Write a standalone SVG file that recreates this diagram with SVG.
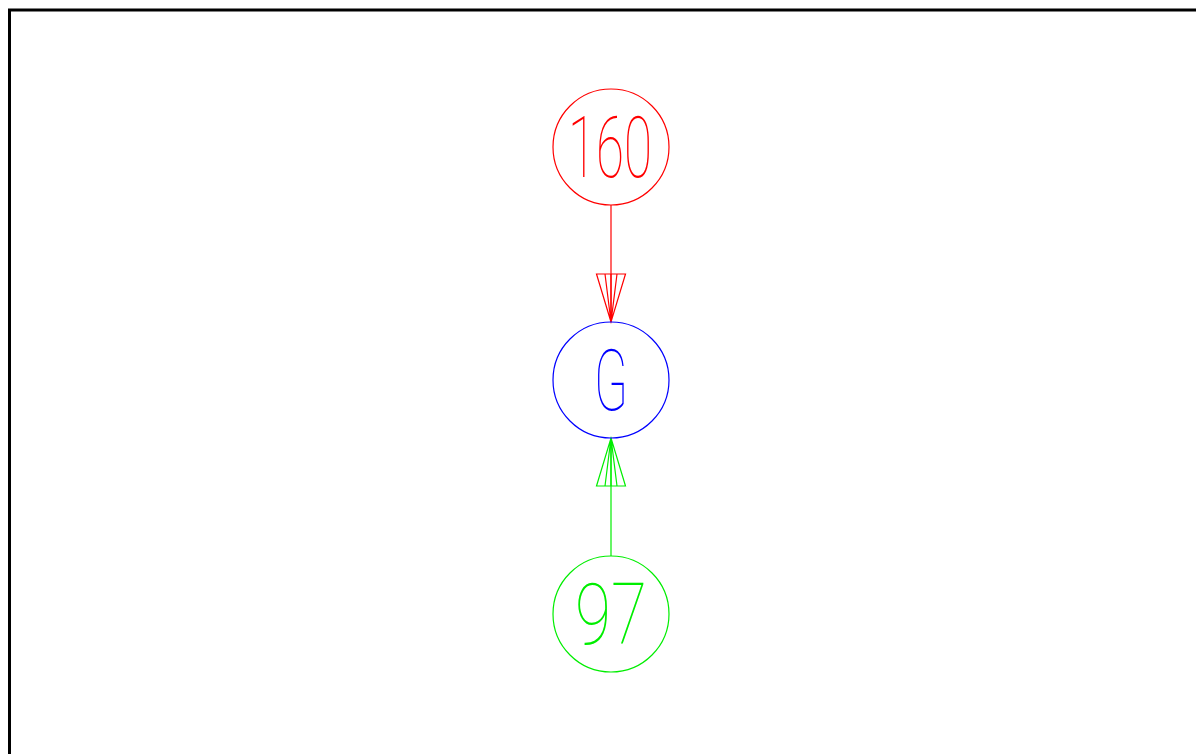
<svg xmlns="http://www.w3.org/2000/svg" xmlns:xlink="http://www.w3.org/1999/xlink" width="1196" height="754" viewBox="0 0 1196 754">
<style>
.node{fill:none;stroke-width:1.2}
.lbl{font-family:"Roboto","Lato","Inter","DejaVu Sans",sans-serif;font-weight:100;font-size:86px;text-anchor:middle}
.edge{fill:none;stroke-width:1.2}
</style>
<defs>
<g id="ah">
<path d="M0,0 L-14.5,-48 L14.5,-48 Z M0,0 L-6,-48 M0,0 L0,-48 M0,0 L6,-48" fill="none"/>
</g>
</defs>
<rect x="0" y="0" width="1196" height="754" fill="#fff"/>
<path d="M9.5,754 V10 H1196" fill="none" stroke="#000" stroke-width="3"/>
<g id="connectors">
<g stroke="#ff0000" class="edge">
<line x1="611" y1="205" x2="611" y2="322"/>
<use xlink:href="#ah" transform="translate(611,322)"/>
</g>
<g stroke="#00ee00" class="edge">
<line x1="611" y1="556" x2="611" y2="438"/>
<use xlink:href="#ah" transform="translate(611,438) rotate(180)"/>
</g>
</g>
<g id="n160">
<circle class="node" cx="611" cy="147" r="58" stroke="#ff0000"/>
<text class="lbl" x="610" y="177" fill="#ff0000" textLength="84" lengthAdjust="spacingAndGlyphs">160</text>
</g>
<g id="nG">
<circle class="node" cx="611" cy="380" r="58" stroke="#0000ff"/>
<text class="lbl" x="611" y="410" fill="#0000ff" textLength="34" lengthAdjust="spacingAndGlyphs">G</text>
</g>
<g id="n97">
<circle class="node" cx="611" cy="614" r="58" stroke="#00ee00"/>
<text class="lbl" x="611" y="644" fill="#00ee00" textLength="72" lengthAdjust="spacingAndGlyphs">97</text>
</g>
</svg>
